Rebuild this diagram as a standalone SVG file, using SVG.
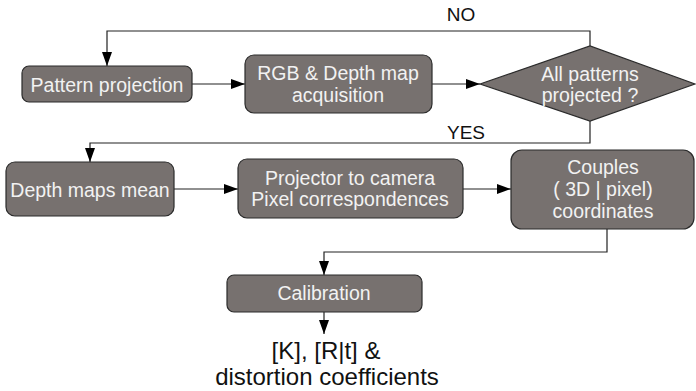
<svg xmlns="http://www.w3.org/2000/svg" width="696" height="391" viewBox="0 0 696 391">
<style>
.box{fill:#77716f;stroke:#2b2b2b;stroke-width:1.2}
.t{font-family:"Liberation Sans",Arial,sans-serif;font-size:19.5px;fill:#f2f2f2;text-anchor:middle}
.lbl{font-family:"Liberation Sans",Arial,sans-serif;font-size:19px;fill:#111;text-anchor:middle}
.out{font-family:"Liberation Sans",Arial,sans-serif;font-size:24px;fill:#111;text-anchor:middle}
.c{fill:none;stroke:#222;stroke-width:1.2}
</style>
<defs>
<marker id="ah" markerWidth="14" markerHeight="10" refX="14" refY="5" orient="auto" markerUnits="userSpaceOnUse">
<path d="M0,0 L14,5 L0,10 Z" fill="#000"/>
</marker>
</defs>
<rect width="696" height="391" fill="#fff"/>
<g id="connectors">
<polyline class="c" points="590,46 590,31 107,31 107,66" marker-end="url(#ah)"/>
<line class="c" x1="192" y1="84" x2="245" y2="84" marker-end="url(#ah)"/>
<line class="c" x1="432" y1="84" x2="480" y2="84" marker-end="url(#ah)"/>
<polyline class="c" points="590,121 590,143 90,143 90,162" marker-end="url(#ah)"/>
<line class="c" x1="174" y1="189" x2="238" y2="189" marker-end="url(#ah)"/>
<line class="c" x1="463" y1="189" x2="511" y2="189" marker-end="url(#ah)"/>
<polyline class="c" points="607,229 607,252 324,252 324,275" marker-end="url(#ah)"/>
<line class="c" x1="324" y1="312" x2="324" y2="334" marker-end="url(#ah)"/>
<text class="lbl" x="461" y="21">NO</text>
<text class="lbl" x="466" y="139">YES</text>
</g>
<g id="pattern-projection">
<rect class="box" x="22" y="66" width="170" height="36" rx="7"/>
<text class="t" x="107" y="92">Pattern projection</text>
</g>
<g id="rgb-depth">
<rect class="box" x="245" y="55" width="187" height="58" rx="9"/>
<text class="t" x="338" y="80">RGB &amp; Depth map</text>
<text class="t" x="338" y="102">acquisition</text>
</g>
<g id="all-patterns">
<polygon class="box" points="480,84 590,46 695,84 590,121"/>
<text class="t" x="590" y="81">All patterns</text>
<text class="t" x="590" y="102">projected ?</text>
</g>
<g id="depth-mean">
<rect class="box" x="6" y="162" width="168" height="54" rx="9"/>
<text class="t" x="90" y="197">Depth maps mean</text>
</g>
<g id="projector-camera">
<rect class="box" x="238" y="159" width="225" height="59" rx="9"/>
<text class="t" x="350" y="185">Projector to camera</text>
<text class="t" x="350" y="206">Pixel correspondences</text>
</g>
<g id="couples">
<rect class="box" x="511" y="150" width="183" height="79" rx="11"/>
<text class="t" x="603" y="174">Couples</text>
<text class="t" x="603" y="196">( 3D | pixel)</text>
<text class="t" x="603" y="218">coordinates</text>
</g>
<g id="calibration">
<rect class="box" x="227" y="275" width="195" height="37" rx="7"/>
<text class="t" x="324" y="300">Calibration</text>
</g>
<g id="output">
<text class="out" x="326" y="359">[K], [R|t] &amp;</text>
<text class="out" x="327" y="385">distortion coefficients</text>
</g>
</svg>
